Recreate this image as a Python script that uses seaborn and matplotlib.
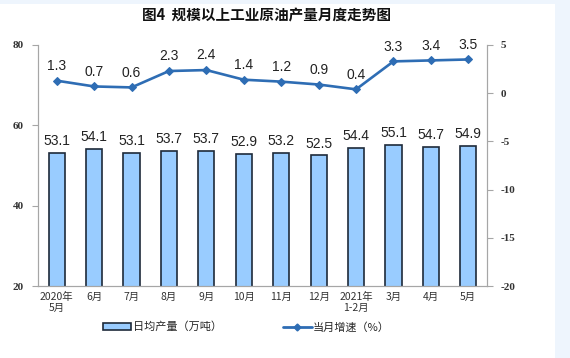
import matplotlib.pyplot as plt
import matplotlib.patches as mpatches
import matplotlib.lines as mlines
import seaborn as sns
import numpy as np
import pandas as pd

# data
months = ['2020年\n5月', '6月', '7月', '8月', '9月', '10月', '11月', '12月',
          '2021年\n1-2月', '3月', '4月', '5月']
daily_output = [53.1, 54.1, 53.1, 53.7, 53.7, 52.9, 53.2, 52.5, 54.4, 55.1, 54.7, 54.9]
growth = [1.3, 0.7, 0.6, 2.3, 2.4, 1.4, 1.2, 0.9, 0.4, 3.3, 3.4, 3.5]

sns.set_style('white')
plt.rcParams['font.family'] = ['Noto Sans CJK SC', 'DejaVu Sans']
plt.rcParams['axes.unicode_minus'] = False

bar_color = '#99CCFF'
line_color = '#2E6DB4'
spine_color = '#A6A6A6'

fig = plt.figure(figsize=(5.7, 3.58), dpi=100)
fig.patch.set_facecolor('#EEF5FD')
fig.patches.append(mpatches.Rectangle((0, 0), 555 / 570, 354 / 358, transform=fig.transFigure,
                                      facecolor='white', edgecolor='none', zorder=-10))

ax = fig.add_axes([38 / 570, 1 - 286 / 358, 449 / 570, 241 / 358])
ax.set_facecolor('none')
df = pd.DataFrame({'month': months, 'output': daily_output})
sns.barplot(data=df, x='month', y='output', ax=ax, color=bar_color, saturation=1,
            edgecolor='#1E2A3A', linewidth=1.2, width=0.43)
ax.set_ylim(20, 80)
ax.set_xlim(-0.5, 11.5)
ax.set_yticks([20, 40, 60, 80])
ax.set_xlabel('')
ax.set_ylabel('')
for i, v in enumerate(daily_output):
    ax.text(i, v + 1.2, f'{v:.1f}', ha='center', va='bottom', fontsize=10,
            family='Liberation Sans', color='#222222')

ax2 = ax.twinx()
sns.lineplot(x=np.arange(len(growth)), y=growth, ax=ax2, color=line_color, linewidth=1.9,
             marker='D', markersize=4.5, markeredgecolor=line_color)
ax2.set_ylim(-20, 5)
ax2.set_yticks([-20, -15, -10, -5, 0, 5])
for i, v in enumerate(growth):
    ax2.text(i, v + 0.8, f'{v:.1f}', ha='center', va='bottom', fontsize=10,
             family='Liberation Sans', color='#222222')

for a in (ax, ax2):
    a.spines['top'].set_visible(False)
    for s in ['left', 'right', 'bottom']:
        a.spines[s].set_color(spine_color)
        a.spines[s].set_linewidth(0.8)

ax.tick_params(axis='y', direction='out', length=4, color=spine_color, labelsize=8, pad=6)
ax2.tick_params(axis='y', direction='out', length=4, color=spine_color, labelsize=8, pad=6)
for lbl in ax.get_yticklabels() + ax2.get_yticklabels():
    lbl.set_family('Liberation Serif')
    lbl.set_fontweight('bold')
    lbl.set_color('#333333')

ax.tick_params(axis='x', which='major', length=0, labelsize=7.5, pad=4, colors='#333333')
ax.set_xticks(np.arange(0.5, 11.5, 1), minor=True)
ax.tick_params(axis='x', which='minor', direction='out', length=3, color=spine_color)
ax2.grid(False)
ax.grid(False)

fig.text(266 / 570, 1 - 16 / 358, '图4  规模以上工业原油产量月度走势图', ha='center', va='center',
         fontsize=10.5, fontweight='bold', color='#111111')

h1 = mpatches.Patch(facecolor=bar_color, edgecolor='#1E2A3A', linewidth=1.2)
h2 = mlines.Line2D([], [], color=line_color, linewidth=2, marker='D', markersize=3.5)
fig.legend([h1, h2], ['日均产量（万吨）', '当月增速（%）'], loc='center',
           bbox_to_anchor=(246 / 570, 1 - 327 / 358), ncol=2, frameon=False,
           fontsize=8, handlelength=2.6, handleheight=0.55, handletextpad=0.1,
           columnspacing=5.5)

fig.savefig('out.png', dpi=100, facecolor=fig.get_facecolor())
